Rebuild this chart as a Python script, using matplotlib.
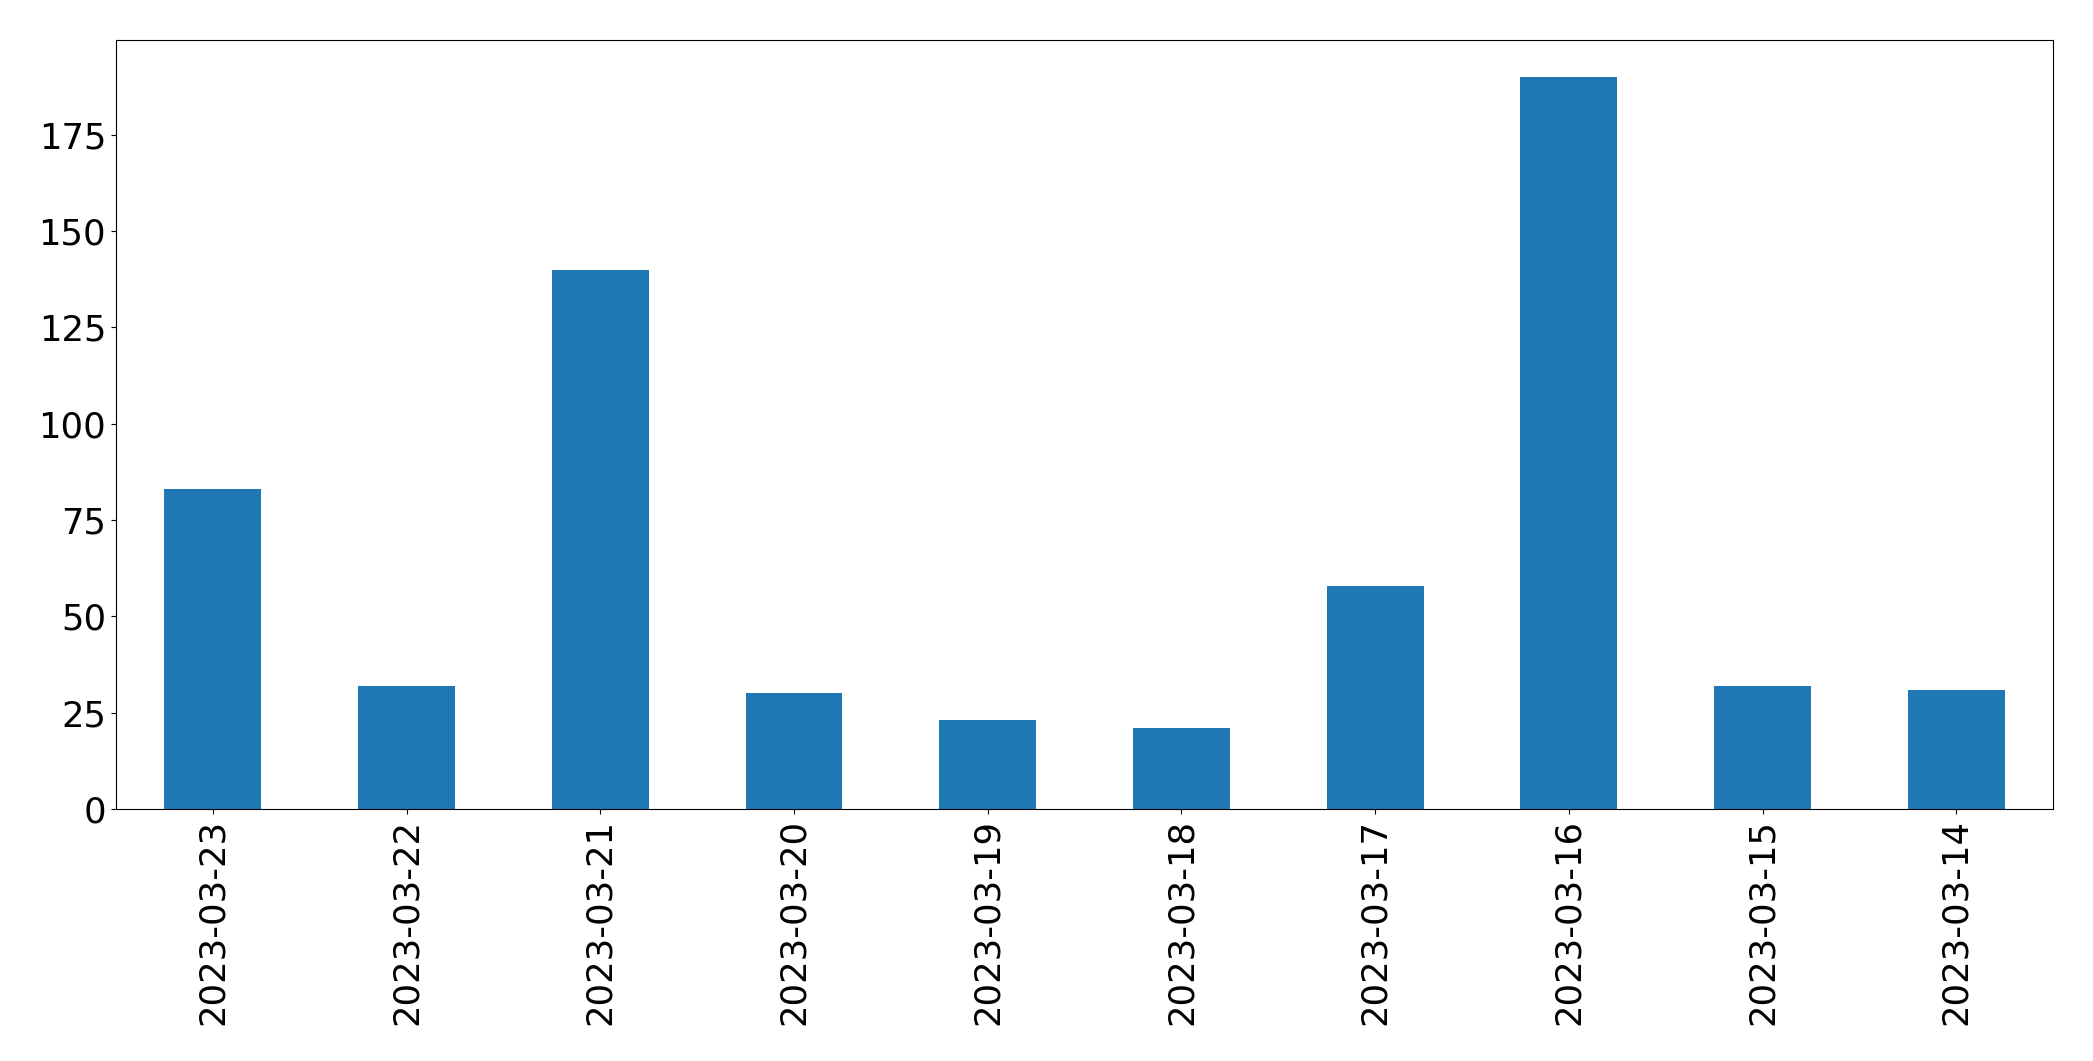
import matplotlib
matplotlib.use("Agg")
import matplotlib.pyplot as plt

# Valores (contagem por dia)
dates = ['2023-03-23', '2023-03-22', '2023-03-21', '2023-03-20', '2023-03-19',
         '2023-03-18', '2023-03-17', '2023-03-16', '2023-03-15', '2023-03-14']
counts = [83, 32, 140, 30, 23, 21, 58, 190, 32, 31]

fig = plt.figure(figsize=(20.93, 10.61), dpi=100)
ax = fig.add_axes([0.0554, 0.2375, 0.9256, 0.7245])

x = list(range(len(dates)))
ax.bar(x, counts, width=0.5, color='#1f77b4')
ax.set_xticks(x)
ax.set_xticklabels(dates, rotation=90)
ax.set_xlim(-0.5, len(dates) - 0.5)
ax.set_ylim(0, max(counts) * 1.05)
ax.tick_params(labelsize=25.5)

fig.savefig('out.png', dpi=100)
